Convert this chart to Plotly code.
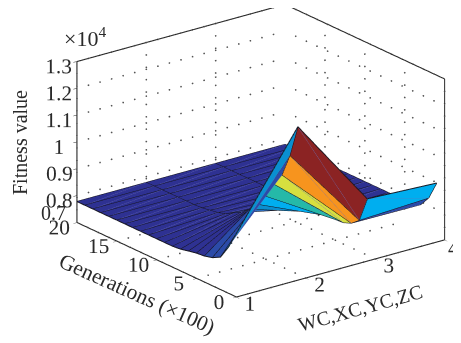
import numpy as np
import plotly.graph_objects as go

SERIF = "Liberation Serif"
INK = "#2a2a2a"
W, H, PAGE_OFFSET = 453, 335, 8

# Data
wc_positions = [1, 2, 3, 4]
generations = list(range(1, 21))
z_wc = [.872, .821, .805, .797, .794, .788, .781, .778, .778, .778, .778, .778, .778, .778, .778, .778, .778, .778, .778, .778]
z_xc = [1.25, 1.13, 1.043, .995, .936, .892, .86, .834, .817, .80, .79, .785, .78, .778, .778, .778, .778, .778, .778, .778]
z_yc = [.91, .817, .792, .78, .778, .778, .778, .778, .778, .778, .778, .778, .778, .778, .778, .778, .778, .778, .778, .778]
z_zc = [.898, .829, .79, .78, .778, .778, .778, .778, .778, .778, .778, .778, .778, .778, .778, .778, .778, .778, .778, .778]
x_ticks = [1, 2, 3, 4]
x_tick_text = ["1", "2", "3", ""]
y_ticks = [0, 5, 10, 15, 20]
z_ticks = [0.8, 0.9, 1.0, 1.1, 1.2, 1.3]
z_tick_text = ["0.8", "0.9", "1", "1.1", "1.2", "1.3"]
band_limits = [.80, .84, .87, .895, .96, 1.02, 1.08, 1.15]
band_colors = ["#2E3192", "#2B4BA8", "#2E6FBF", "#0A8FD0", "#00AEEF", "#25B9A8", "#D7DF3F", "#F7941E", "#8B2323"]

Z = np.array([z_wc, z_xc, z_yc, z_zc]).T
nr, nc = Z.shape
X, Y = np.meshgrid(wc_positions, generations)
idx = lambda r, c: r * nc + c
I, J, K, FC = [], [], [], []
for r in range(nr - 1):
    for c in range(nc - 1):
        col = band_colors[int(np.searchsorted(band_limits, Z[r, c]))]
        I += [idx(r, c), idx(r, c)]
        J += [idx(r, c + 1), idx(r + 1, c + 1)]
        K += [idx(r + 1, c + 1), idx(r + 1, c)]
        FC += [col, col]

fig = go.Figure()
fig.add_trace(go.Mesh3d(x=X.ravel(), y=Y.ravel(), z=Z.ravel(), i=I, j=J, k=K, facecolor=FC,
                        flatshading=True, hoverinfo="skip", showscale=False,
                        lighting=dict(ambient=1, diffuse=0, specular=0, roughness=1, fresnel=0)))

# faint seam across each facet
sx, sy, sz = [], [], []
for r in range(nr - 1):
    for c in range(nc - 1):
        sx += [X[r, c], X[r + 1, c + 1], None]
        sy += [Y[r, c], Y[r + 1, c + 1], None]
        sz += [Z[r, c], Z[r + 1, c + 1], None]
fig.add_trace(go.Scatter3d(x=sx, y=sy, z=sz, mode="lines", line=dict(color="#6d70b8", width=1), hoverinfo="skip"))

# mesh edges
ex, ey, ez = [], [], []
for r in range(nr):
    ex += list(X[r]) + [None]; ey += list(Y[r]) + [None]; ez += list(Z[r]) + [None]
for c in range(nc):
    ex += list(X[:, c]) + [None]; ey += list(Y[:, c]) + [None]; ez += list(Z[:, c]) + [None]
fig.add_trace(go.Scatter3d(x=ex, y=ey, z=ez, mode="lines", line=dict(color="#15151f", width=2), hoverinfo="skip"))

# dotted grid on the three back walls
x0, x1, y0, y1, z0, z1 = 1, 4, 0, 20, 0.7, 1.3
def dots(a, b, n=19):
    t = np.linspace(0, 1, n)[1:-1]
    return [np.array(a)[i] + (np.array(b)[i] - np.array(a)[i]) * t for i in range(3)]
segs = []
for z in z_ticks:
    segs.append(((x0, y1, z), (x1, y1, z), 19))
    segs.append(((x1, y0, z), (x1, y1, z), 16))
for x in x_ticks[:-1]:
    segs.append(((x, y1, z0), (x, y1, z1), 14))
    segs.append(((x, y0, z0), (x, y1, z0), 16))
for y in y_ticks[:-1]:
    segs.append(((x1, y, z0), (x1, y, z1), 14))
    segs.append(((x0, y, z0), (x1, y, z0), 19))
gx, gy, gz = [], [], []
for a, b, n in segs:
    p = dots(a, b, n)
    gx += list(p[0]); gy += list(p[1]); gz += list(p[2])
fig.add_trace(go.Scatter3d(x=gx, y=gy, z=gz, mode="markers",
                           marker=dict(size=1, color="#555555", line=dict(width=0)), hoverinfo="skip"))

# box outline
bx = [x0, x0, None, x0, x1, None, x0, x0, None, x0, x1, x1, None, x1, x1]
by = [y1, y1, None, y0, y0, None, y0, y1, None, y1, y1, y0, None, y0, y0]
bz = [z0, z1, None, z0, z0, None, z0, z0, None, z1, z1, z1, None, z0, z1]
fig.add_trace(go.Scatter3d(x=bx, y=by, z=bz, mode="lines", line=dict(color=INK, width=2.2), hoverinfo="skip"))

def axis(rng, vals, text=None):
    return dict(title=dict(text=""),
                range=rng, tickvals=vals, ticktext=text or [str(v) for v in vals],
                tickfont=dict(family=SERIF, size=16, color=INK), tickangle=0,
                showgrid=False, zeroline=False, showline=False, showbackground=False,
                ticks="outside", ticklen=4, tickcolor=INK, tickwidth=1, showspikes=False)

def label(text, px, py, anchor, angle, size):
    return dict(text=text, x=(px - PAGE_OFFSET) / W, y=1 - (py - PAGE_OFFSET) / H,
                xref="paper", yref="paper", showarrow=False, xanchor=anchor, yanchor="middle",
                textangle=angle, font=dict(family=SERIF, size=size, color=INK))

d = 4.0
s = 1.569
cx, cy, cz = -.157, .053, -.138
fig.update_layout(
    width=W, height=H, margin=dict(l=0, r=0, t=0, b=0), paper_bgcolor="white", showlegend=False,
    scene=dict(
        domain=dict(x=[0, 1], y=[0, 1]),
        xaxis=axis([x0 - .003, x1 + .003], x_ticks, x_tick_text),
        yaxis=axis([y0 - .02, y1 + .02], y_ticks),
        zaxis=axis([z0 - .0006, z1 + .0006], z_ticks, z_tick_text),
        aspectmode="manual", aspectratio=dict(x=s, y=s, z=0.657 * s),
        camera=dict(projection=dict(type="orthographic"), up=dict(x=0, y=0, z=1),
                    center=dict(x=cx, y=cy, z=cz),
                    eye=dict(x=cx - .568 * d, y=cy - .741 * d, z=cz + .358 * d))),
    annotations=[
        label("0.7", 68, 213, "right", 0, 20),
        label("4", 453, 248, "center", 0, 20),
        label("×10<sup>4</sup>", 62, 37, "left", 0, 22),
        label("Fitness value", 20, 143, "center", -90, 20),
        label("Generations (×100)", 137, 294, "center", 24, 21.5),
        label("WC,XC,YC,ZC", 360, 308, "center", -15.5, 20),
    ])
fig.write_html("out.html")
